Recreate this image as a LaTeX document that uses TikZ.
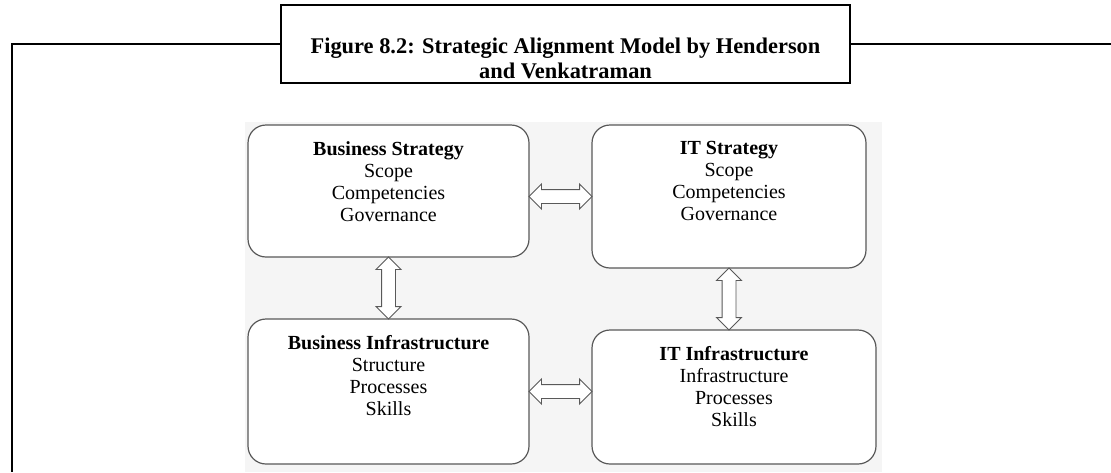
\documentclass[tikz,border=0pt]{standalone}
\usepackage{fontspec}
\setmainfont{Liberation Serif}
\usetikzlibrary{shapes.arrows}
\tikzset{
    model-box/.style = {draw=black!65, fill=white, line width=1.2pt, rectangle, rounded corners=18pt, inner sep=0pt},
    model-text/.style = {anchor=north, yshift=-17pt, align=center, inner sep=0pt, font=\fontsize{20}{22}\selectfont},
    link-arrow/.style = {double arrow, draw=black!65, fill=white, line width=0.9pt, minimum height=62pt, minimum width=0pt, double arrow head extend=5.5pt, inner sep=0pt},
    figure-box/.style = {draw, line width=1.6pt, rectangle, inner sep=0pt, minimum width=569pt, minimum height=78pt},
}

\begin{document}
\begin{tikzpicture}[x=1pt, y=-1pt]
\useasboundingbox (0,0) rectangle (1111,472);
\fill[black!4] (245,122) rectangle (882,472);

% title and frame
\node [figure-box] (title) at (565.5,44) {};
\node [anchor=south, yshift=5pt, align=center, inner sep=0pt, font=\bfseries\fontsize{22.4}{25}\selectfont] (title-text) at (title.south)
    {Figure 8.2: Strategic Alignment Model by Henderson\\and Venkatraman};
\draw [line width=1.6pt] (title.west) -- (12,44) -- (12,472);
\draw [line width=1.6pt] (title.east) -- (1111,44);

% the four domains
\node [model-box, minimum width=281pt, minimum height=132pt] (bs) at (388.5,191) {};
\node [model-box, minimum width=274pt, minimum height=143pt] (its) at (729,196.5) {};
\node [model-box, minimum width=281pt, minimum height=145pt] (bi) at (388.5,391.5) {};
\node [model-box, minimum width=284pt, minimum height=134pt] (iti) at (734,397) {};

\node [model-text] (bs-text) at (bs.north) {\textbf{Business Strategy}\\Scope\\Competencies\\Governance};
\node [model-text] (its-text) at (its.north) {\textbf{IT Strategy}\\Scope\\Competencies\\Governance};
\node [model-text] (bi-text) at (bi.north) {\textbf{Business Infrastructure}\\Structure\\Processes\\Skills};
\node [model-text] (iti-text) at (iti.north) {\textbf{IT Infrastructure}\\Infrastructure\\Processes\\Skills};

% alignment arrows
\path (its.west) -- (bs.east |- its.west) node [link-arrow, midway, minimum height=63pt] (bs-its) {\rule{0pt}{13pt}};
\path (bs.south) -- (bi.north) node [link-arrow, midway, rotate=90] (bs-bi) {\rule{0pt}{13pt}};
\path (its.south) -- (its.south |- iti.north) node [link-arrow, midway, rotate=90] (its-iti) {\rule{0pt}{13pt}};
\path (bi.east) -- (iti.west |- bi.east) node [link-arrow, midway, minimum height=63pt] (bi-iti) {\rule{0pt}{13pt}};
\end{tikzpicture}
\end{document}
